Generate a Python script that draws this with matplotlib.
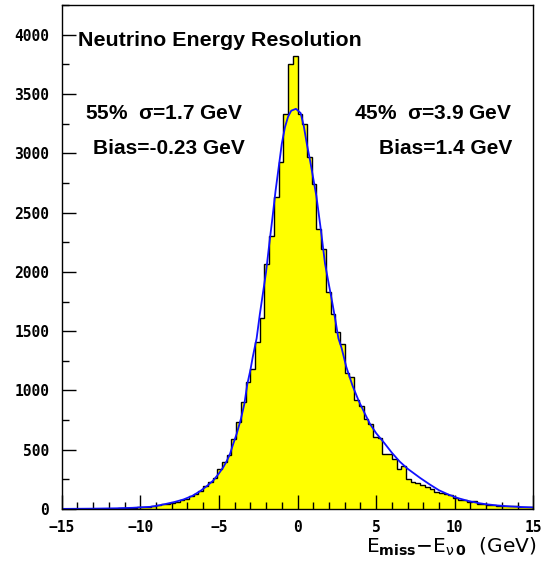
import numpy as np
import matplotlib
matplotlib.use('Agg')
import matplotlib.pyplot as plt

plt.rcParams['mathtext.default'] = 'regular'

# histogram: 100 bins of 0.3 GeV from -15 to 15
bin_edges = np.linspace(-15, 15, 101)
counts = [0, 0, 1, 1, 1, 1, 2, 2, 2, 3,
          3, 4, 5, 6, 8, 10, 13, 15, 19, 24,
          30, 38, 44, 52, 63, 72, 85, 110, 126, 153,
          190, 228, 260, 339, 395, 458, 590, 732, 901, 1070,
          1182, 1406, 1610, 2068, 2300, 2630, 2925, 3334, 3755, 3820,
          3334, 3249, 2967, 2743, 2364, 2195, 1829, 1647, 1491, 1393,
          1150, 1115, 921, 865, 761, 719, 606, 600, 465, 465,
          423, 339, 361, 250, 228, 218, 205, 188, 172, 143,
          133, 127, 122, 94, 72, 72, 57, 69, 44, 44,
          33, 33, 27, 27, 27, 24, 24, 19, 19, 14]

# fitted curve
fit_x = [-15, -13, -11.5, -10.5, -10, -9.4, -8.9, -8.4, -7.8, -7.26,
         -6.7, -6.2, -5.8, -5.36, -5.0, -4.72, -4.5, -4.29, -4.1, -3.87,
         -3.6, -3.38, -3.19, -3.0, -2.85, -2.6, -2.4, -2.2, -2.0, -1.8,
         -1.6, -1.4, -1.2, -1.0, -0.8, -0.6, -0.4, -0.1, 0.2, 0.4,
         0.6, 0.8, 1.0, 1.2, 1.5, 1.75, 2.0, 2.2, 2.4, 2.6,
         2.8, 3.1, 3.5, 3.9, 4.3, 4.6, 5.0, 5.5, 6.0, 6.5,
         7.0, 7.8, 8.4, 9.0, 9.6, 10.2, 10.8, 11.5, 12.0, 12.7,
         13.5, 14.2, 15]
fit_y = [1, 3, 6, 10, 14, 18, 28, 42, 60, 80,
         110, 150, 190, 240, 300, 353, 405, 466, 545, 634,
         760, 887, 1056, 1170, 1280, 1440, 1640, 1820, 2000, 2230,
         2450, 2680, 2880, 3081, 3220, 3310, 3360, 3376, 3340, 3230,
         3075, 2940, 2790, 2640, 2340, 2070, 1890, 1750, 1600, 1440,
         1360, 1200, 1040, 910, 800, 720, 640, 560, 475, 400,
         340, 262, 208, 158, 122, 92, 70, 50, 40, 30,
         22, 17, 13]

fig = plt.figure(figsize=(5.43, 5.61), dpi=100)
ax = fig.add_axes([0.1136, 0.0927, 0.8686, 0.898])

ax.stairs(counts, bin_edges, fill=True, color='#ffff00')
ax.stairs(counts, bin_edges, color='black', linewidth=1.0)
ax.plot(fit_x, fit_y, color='#1010ff', linewidth=1.3)

ax.set_xlim(-15, 15)
ax.set_ylim(0, 4250)
ax.set_xticks(np.arange(-15, 16, 5))
ax.set_xticks(np.arange(-15, 16, 1), minor=True)
ax.set_yticks(np.arange(0, 4001, 500))
ax.set_yticks(np.arange(0, 4251, 250), minor=True)
ax.tick_params(which='both', direction='in', top=False, right=False, width=1)
ax.tick_params(which='major', length=10)
ax.tick_params(which='minor', length=5)
ax.tick_params(axis='y', pad=9)
ax.tick_params(axis='x', pad=8)
for lab in ax.get_xticklabels() + ax.get_yticklabels():
    lab.set_fontfamily('DejaVu Sans Mono')
    lab.set_fontweight('bold')
    lab.set_fontsize(10.5)
for sp in ax.spines.values():
    sp.set_linewidth(1.0)

# texts
ax.text(0.034, 0.92, 'Neutrino Energy Resolution', transform=ax.transAxes,
        fontsize=15.4, fontweight='bold', family='Liberation Sans', va='baseline')
ax.text(0.05, 0.775, r'55$\%$  $\sigma$=1.7 GeV', transform=ax.transAxes,
        fontsize=15, fontweight='bold', family='Liberation Sans', va='baseline')
ax.text(0.066, 0.705, 'Bias=-0.23 GeV', transform=ax.transAxes,
        fontsize=15, fontweight='bold', family='Liberation Sans', va='baseline')
ax.text(0.955, 0.775, r'45$\%$  $\sigma$=3.9 GeV', transform=ax.transAxes,
        fontsize=15, fontweight='bold', family='Liberation Sans', va='baseline', ha='right')
ax.text(0.955, 0.705, 'Bias=1.4 GeV', transform=ax.transAxes,
        fontsize=15, fontweight='bold', family='Liberation Sans', va='baseline', ha='right')

fig.text(0.989, 0.0143, r'E$_{\bf miss}$$-$E$_{\nu\,\bf 0}$  (GeV)', fontsize=14.5,
         ha='right', va='baseline')

plt.savefig('out.png', dpi=100)
